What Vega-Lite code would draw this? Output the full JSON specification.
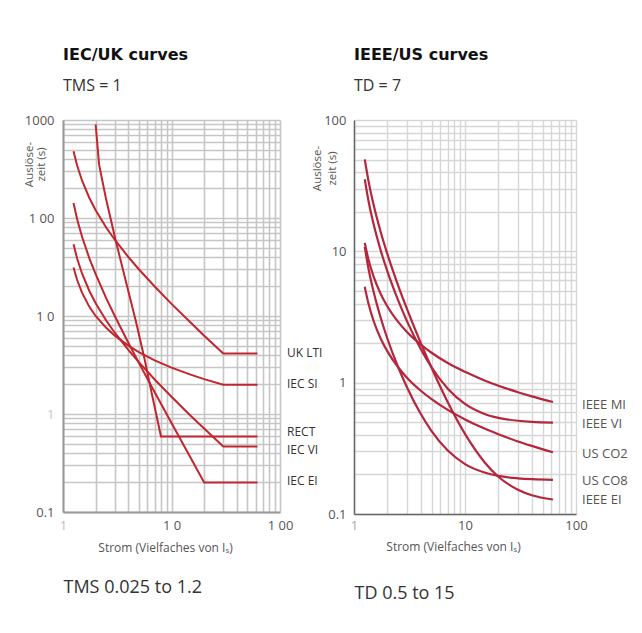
{
  "$schema": "https://vega.github.io/schema/vega-lite/v6.json",
  "background": "white",
  "padding": {"left": 23, "top": 47, "right": 5, "bottom": 5},
  "bounds": "flush",
  "spacing": 74,
  "config": {
    "view": {"stroke": null},
    "title": {"font": "DejaVu Sans", "fontSize": 16, "fontWeight": "bold", "color": "#111111", "subtitleFont": "Open Sans", "subtitleFontSize": 16, "subtitleColor": "#333333", "subtitlePadding": 15},
    "axis": {"labelFont": "Open Sans", "labelFontSize": 13, "labelColor": "#555555", "titleFont": "Open Sans", "titleFontWeight": "normal", "titleColor": "#555555", "ticks": false, "labelFlush": false, "labelOverlap": false, "labelBound": false, "grid": true}
  },
  "datasets": {
    "iec": [
      {"curve": "UK LTI", "I": 1.25, "t": 480}, {"curve": "UK LTI", "I": 1.35, "t": 343}, {"curve": "UK LTI", "I": 1.5, "t": 240}, {"curve": "UK LTI", "I": 1.75, "t": 160}, {"curve": "UK LTI", "I": 2, "t": 120}, {"curve": "UK LTI", "I": 2.5, "t": 80}, {"curve": "UK LTI", "I": 3, "t": 60}, {"curve": "UK LTI", "I": 4, "t": 40}, {"curve": "UK LTI", "I": 5, "t": 30}, {"curve": "UK LTI", "I": 7, "t": 20}, {"curve": "UK LTI", "I": 10, "t": 13.3}, {"curve": "UK LTI", "I": 15, "t": 8.6}, {"curve": "UK LTI", "I": 20, "t": 6.3}, {"curve": "UK LTI", "I": 30, "t": 4.14}, {"curve": "UK LTI", "I": 62, "t": 4.14},
      {"curve": "IEC SI", "I": 1.25, "t": 31.3}, {"curve": "IEC SI", "I": 1.35, "t": 23.3}, {"curve": "IEC SI", "I": 1.5, "t": 17.2}, {"curve": "IEC SI", "I": 1.75, "t": 12.4}, {"curve": "IEC SI", "I": 2, "t": 10.0}, {"curve": "IEC SI", "I": 2.5, "t": 7.57}, {"curve": "IEC SI", "I": 3, "t": 6.3}, {"curve": "IEC SI", "I": 4, "t": 4.98}, {"curve": "IEC SI", "I": 5, "t": 4.28}, {"curve": "IEC SI", "I": 7, "t": 3.53}, {"curve": "IEC SI", "I": 10, "t": 2.97}, {"curve": "IEC SI", "I": 15, "t": 2.52}, {"curve": "IEC SI", "I": 20, "t": 2.27}, {"curve": "IEC SI", "I": 30, "t": 1.99}, {"curve": "IEC SI", "I": 62, "t": 1.99},
      {"curve": "IEC VI", "I": 1.25, "t": 54}, {"curve": "IEC VI", "I": 1.35, "t": 38.6}, {"curve": "IEC VI", "I": 1.5, "t": 27}, {"curve": "IEC VI", "I": 1.75, "t": 18}, {"curve": "IEC VI", "I": 2, "t": 13.5}, {"curve": "IEC VI", "I": 2.5, "t": 9.0}, {"curve": "IEC VI", "I": 3, "t": 6.75}, {"curve": "IEC VI", "I": 4, "t": 4.5}, {"curve": "IEC VI", "I": 5, "t": 3.38}, {"curve": "IEC VI", "I": 7, "t": 2.25}, {"curve": "IEC VI", "I": 10, "t": 1.5}, {"curve": "IEC VI", "I": 15, "t": 0.96}, {"curve": "IEC VI", "I": 20, "t": 0.71}, {"curve": "IEC VI", "I": 30, "t": 0.466}, {"curve": "IEC VI", "I": 62, "t": 0.466},
      {"curve": "IEC EI", "I": 1.25, "t": 142}, {"curve": "IEC EI", "I": 1.35, "t": 97}, {"curve": "IEC EI", "I": 1.5, "t": 64}, {"curve": "IEC EI", "I": 1.75, "t": 38.8}, {"curve": "IEC EI", "I": 2, "t": 26.7}, {"curve": "IEC EI", "I": 2.5, "t": 15.2}, {"curve": "IEC EI", "I": 3, "t": 10}, {"curve": "IEC EI", "I": 4, "t": 5.33}, {"curve": "IEC EI", "I": 5, "t": 3.33}, {"curve": "IEC EI", "I": 7, "t": 1.67}, {"curve": "IEC EI", "I": 10, "t": 0.81}, {"curve": "IEC EI", "I": 15, "t": 0.357}, {"curve": "IEC EI", "I": 20, "t": 0.2}, {"curve": "IEC EI", "I": 62, "t": 0.2},
      {"curve": "RECT", "I": 2.0, "t": 900}, {"curve": "RECT", "I": 2.15, "t": 352}, {"curve": "RECT", "I": 2.48, "t": 161}, {"curve": "RECT", "I": 3.07, "t": 58}, {"curve": "RECT", "I": 3.79, "t": 22.8}, {"curve": "RECT", "I": 4.69, "t": 8.9}, {"curve": "RECT", "I": 5.6, "t": 3.8}, {"curve": "RECT", "I": 6.69, "t": 1.48}, {"curve": "RECT", "I": 8.0, "t": 0.59}, {"curve": "RECT", "I": 62, "t": 0.59}
    ],
    "iecLabels": [
      {"curve": "UK LTI", "I": 100, "t": 4.15},
      {"curve": "IEC SI", "I": 100, "t": 2.02},
      {"curve": "RECT", "I": 100, "t": 0.654},
      {"curve": "IEC VI", "I": 100, "t": 0.431},
      {"curve": "IEC EI", "I": 100, "t": 0.209}
    ],
    "ieee": [
      {"curve": "IEEE MI", "I": 1.25, "t": 11.6}, {"curve": "IEEE MI", "I": 1.35, "t": 8.67}, {"curve": "IEEE MI", "I": 1.5, "t": 6.44}, {"curve": "IEEE MI", "I": 1.75, "t": 4.69}, {"curve": "IEEE MI", "I": 2, "t": 3.8}, {"curve": "IEEE MI", "I": 2.5, "t": 2.9}, {"curve": "IEEE MI", "I": 3, "t": 2.43}, {"curve": "IEEE MI", "I": 4, "t": 1.95}, {"curve": "IEEE MI", "I": 5, "t": 1.69}, {"curve": "IEEE MI", "I": 7, "t": 1.41}, {"curve": "IEEE MI", "I": 10, "t": 1.21}, {"curve": "IEEE MI", "I": 15, "t": 1.04}, {"curve": "IEEE MI", "I": 20, "t": 0.948}, {"curve": "IEEE MI", "I": 30, "t": 0.846}, {"curve": "IEEE MI", "I": 40, "t": 0.787}, {"curve": "IEEE MI", "I": 62, "t": 0.713},
      {"curve": "IEEE VI", "I": 1.25, "t": 35.4}, {"curve": "IEEE VI", "I": 1.35, "t": 24.3}, {"curve": "IEEE VI", "I": 1.5, "t": 16.2}, {"curve": "IEEE VI", "I": 1.75, "t": 10.0}, {"curve": "IEEE VI", "I": 2, "t": 7.03}, {"curve": "IEEE VI", "I": 2.5, "t": 4.23}, {"curve": "IEEE VI", "I": 3, "t": 2.94}, {"curve": "IEEE VI", "I": 4, "t": 1.8}, {"curve": "IEEE VI", "I": 5, "t": 1.31}, {"curve": "IEEE VI", "I": 7, "t": 0.9}, {"curve": "IEEE VI", "I": 10, "t": 0.689}, {"curve": "IEEE VI", "I": 15, "t": 0.578}, {"curve": "IEEE VI", "I": 20, "t": 0.54}, {"curve": "IEEE VI", "I": 30, "t": 0.513}, {"curve": "IEEE VI", "I": 40, "t": 0.503}, {"curve": "IEEE VI", "I": 62, "t": 0.496},
      {"curve": "IEEE EI", "I": 1.25, "t": 50.2}, {"curve": "IEEE EI", "I": 1.35, "t": 34.4}, {"curve": "IEEE EI", "I": 1.5, "t": 22.7}, {"curve": "IEEE EI", "I": 1.75, "t": 13.8}, {"curve": "IEEE EI", "I": 2, "t": 9.52}, {"curve": "IEEE EI", "I": 2.5, "t": 5.49}, {"curve": "IEEE EI", "I": 3, "t": 3.65}, {"curve": "IEEE EI", "I": 4, "t": 2.0}, {"curve": "IEEE EI", "I": 5, "t": 1.3}, {"curve": "IEEE EI", "I": 7, "t": 0.709}, {"curve": "IEEE EI", "I": 10, "t": 0.407}, {"curve": "IEEE EI", "I": 15, "t": 0.248}, {"curve": "IEEE EI", "I": 20, "t": 0.192}, {"curve": "IEEE EI", "I": 30, "t": 0.153}, {"curve": "IEEE EI", "I": 40, "t": 0.139}, {"curve": "IEEE EI", "I": 62, "t": 0.129},
      {"curve": "US CO8", "I": 1.25, "t": 10.8}, {"curve": "US CO8", "I": 1.35, "t": 7.41}, {"curve": "US CO8", "I": 1.5, "t": 4.94}, {"curve": "US CO8", "I": 1.75, "t": 3.07}, {"curve": "US CO8", "I": 2, "t": 2.16}, {"curve": "US CO8", "I": 2.5, "t": 1.31}, {"curve": "US CO8", "I": 3, "t": 0.924}, {"curve": "US CO8", "I": 4, "t": 0.577}, {"curve": "US CO8", "I": 5, "t": 0.428}, {"curve": "US CO8", "I": 7, "t": 0.304}, {"curve": "US CO8", "I": 10, "t": 0.24}, {"curve": "US CO8", "I": 15, "t": 0.207}, {"curve": "US CO8", "I": 20, "t": 0.195}, {"curve": "US CO8", "I": 30, "t": 0.187}, {"curve": "US CO8", "I": 40, "t": 0.184}, {"curve": "US CO8", "I": 62, "t": 0.182},
      {"curve": "US CO2", "I": 1.25, "t": 5.37}, {"curve": "US CO2", "I": 1.35, "t": 4.0}, {"curve": "US CO2", "I": 1.5, "t": 2.96}, {"curve": "US CO2", "I": 1.75, "t": 2.14}, {"curve": "US CO2", "I": 2, "t": 1.73}, {"curve": "US CO2", "I": 2.5, "t": 1.31}, {"curve": "US CO2", "I": 3, "t": 1.09}, {"curve": "US CO2", "I": 4, "t": 0.868}, {"curve": "US CO2", "I": 5, "t": 0.749}, {"curve": "US CO2", "I": 7, "t": 0.62}, {"curve": "US CO2", "I": 10, "t": 0.525}, {"curve": "US CO2", "I": 15, "t": 0.447}, {"curve": "US CO2", "I": 20, "t": 0.405}, {"curve": "US CO2", "I": 30, "t": 0.357}, {"curve": "US CO2", "I": 40, "t": 0.33}, {"curve": "US CO2", "I": 62, "t": 0.295}
    ],
    "ieeeLabels": [
      {"curve": "IEEE MI", "I": 100, "t": 0.678},
      {"curve": "IEEE VI", "I": 100, "t": 0.486},
      {"curve": "US CO2", "I": 100, "t": 0.286},
      {"curve": "US CO8", "I": 100, "t": 0.179},
      {"curve": "IEEE EI", "I": 100, "t": 0.128}
    ]
  },
  "hconcat": [
    {
      "width": 217,
      "height": 392,
      "title": {"text": "IEC/UK curves", "subtitle": "TMS = 1", "anchor": "start", "frame": "group", "offset": 20},
      "resolve": {"scale": {"x": "independent"}, "axis": {"x": "independent"}},
      "layer": [
        {
          "data": {"name": "iec"},
          "mark": {"type": "line", "color": "#c1262e", "strokeWidth": 2, "interpolate": "linear"},
          "encoding": {
            "x": {"field": "I", "type": "quantitative", "scale": {"type": "log", "domain": [1, 100], "nice": false},
              "axis": {"orient": "bottom", "values": [1, 2, 3, 4, 5, 6, 7, 8, 9, 10, 20, 30, 40, 50, 60, 70, 80, 90, 100],
                "labelExpr": "datum.value == 1 ? '1' : datum.value == 10 ? '1 0' : datum.value == 100 ? '1 00' : ''",
                "labelColor": {"condition": {"test": "datum.value == 1", "value": "#bbbbbb"}, "value": "#555555"},
                "labelPadding": 7, "gridColor": "#c6c6c6", "gridWidth": 1.6, "domainColor": "#999999", "domainWidth": 2,
                "title": "Strom (Vielfaches von Iₛ)", "titleFontSize": 12, "titleX": 102, "titleY": 35, "titleBaseline": "middle"}},
            "y": {"field": "t", "type": "quantitative", "scale": {"type": "log", "domain": [0.1, 1000], "nice": false},
              "axis": {"values": [0.1, 0.2, 0.3, 0.4, 0.5, 0.6, 0.7, 0.8, 0.9, 1, 2, 3, 4, 5, 6, 7, 8, 9, 10, 20, 30, 40, 50, 60, 70, 80, 90, 100, 200, 300, 400, 500, 600, 700, 800, 900, 1000],
                "labelExpr": "datum.value == 1000 ? '1000' : datum.value == 100 ? '1 00' : datum.value == 10 ? '1 0' : datum.value == 1 ? '1' : datum.value == 0.1 ? '0.1' : ''",
                "labelColor": {"condition": {"test": "datum.value == 1", "value": "#c8c8c8"}, "value": "#555555"},
                "labelPadding": 9, "gridColor": "#c6c6c6", "gridWidth": 1.6, "domainColor": "#999999", "domainWidth": 2,
                "title": ["Auslöse-", "zeit (s)"], "titleFontSize": 11.5, "titleLineHeight": 12, "titleX": -34, "titleY": 44, "titleAngle": -90, "titleAlign": "center", "titleBaseline": "middle"}},
            "detail": {"field": "curve"}
          }
        },
        {
          "data": {"name": "iecLabels"},
          "mark": {"type": "text", "align": "left", "baseline": "middle", "dx": 7, "font": "Open Sans", "fontSize": 12, "color": "#333333"},
          "encoding": {
            "x": {"field": "I", "type": "quantitative", "scale": {"type": "log", "domain": [1, 100], "nice": false},
              "axis": {"orient": "bottom", "domain": false, "labels": false, "ticks": false, "grid": false,
                "title": "TMS 0.025 to 1.2", "titleFont": "Open Sans", "titleFontSize": 18, "titleColor": "#333333", "titleX": 0, "titleY": 75, "titleAlign": "left", "titleBaseline": "middle"}},
            "y": {"field": "t", "type": "quantitative"},
            "text": {"field": "curve"}
          }
        }
      ]
    },
    {
      "width": 222,
      "height": 394,
      "title": {"text": "IEEE/US curves", "subtitle": "TD = 7", "anchor": "start", "frame": "group", "offset": 20},
      "resolve": {"scale": {"x": "independent"}, "axis": {"x": "independent"}},
      "layer": [
        {
          "data": {"name": "ieee"},
          "mark": {"type": "line", "color": "#b4263b", "strokeWidth": 2.2, "interpolate": "monotone"},
          "encoding": {
            "x": {"field": "I", "type": "quantitative", "scale": {"type": "log", "domain": [1, 100], "nice": false},
              "axis": {"orient": "bottom", "values": [1, 2, 3, 4, 5, 6, 7, 8, 9, 10, 20, 30, 40, 50, 60, 70, 80, 90, 100],
                "labelExpr": "datum.value == 1 ? '1' : datum.value == 10 ? '10' : datum.value == 100 ? '100' : ''",
                "labelColor": {"condition": {"test": "datum.value == 1", "value": "#aaaaaa"}, "value": "#555555"},
                "labelPadding": 5, "gridColor": "#d6d6d6", "gridWidth": 1.4, "domainColor": "#666666", "domainWidth": 1.5,
                "title": "Strom (Vielfaches von Iₛ)", "titleFontSize": 12, "titleX": 99, "titleY": 32, "titleBaseline": "middle"}},
            "y": {"field": "t", "type": "quantitative", "scale": {"type": "log", "domain": [0.1, 100], "nice": false},
              "axis": {"values": [0.1, 0.2, 0.3, 0.4, 0.5, 0.6, 0.7, 0.8, 0.9, 1, 2, 3, 4, 5, 6, 7, 8, 9, 10, 20, 30, 40, 50, 60, 70, 80, 90, 100],
                "labelExpr": "datum.value == 100 ? '100' : datum.value == 10 ? '10' : datum.value == 1 ? '1' : datum.value == 0.1 ? '0.1' : ''",
                "labelPadding": 8, "gridColor": "#d6d6d6", "gridWidth": 1.4, "domainColor": "#666666", "domainWidth": 1.5,
                "title": ["Auslöse-", "zeit (s)"], "titleFontSize": 11.5, "titleLineHeight": 15, "titleX": -37, "titleY": 48, "titleAngle": -90, "titleAlign": "center", "titleBaseline": "middle"}},
            "detail": {"field": "curve"}
          }
        },
        {
          "data": {"name": "ieeeLabels"},
          "mark": {"type": "text", "align": "left", "baseline": "middle", "dx": 6, "font": "Open Sans", "fontSize": 13, "color": "#555555"},
          "encoding": {
            "x": {"field": "I", "type": "quantitative", "scale": {"type": "log", "domain": [1, 100], "nice": false},
              "axis": {"orient": "bottom", "domain": false, "labels": false, "ticks": false, "grid": false,
                "title": "TD 0.5 to 15", "titleFont": "Open Sans", "titleFontSize": 18, "titleColor": "#333333", "titleX": 0, "titleY": 79, "titleAlign": "left", "titleBaseline": "middle"}},
            "y": {"field": "t", "type": "quantitative"},
            "text": {"field": "curve"}
          }
        }
      ]
    }
  ]
}
